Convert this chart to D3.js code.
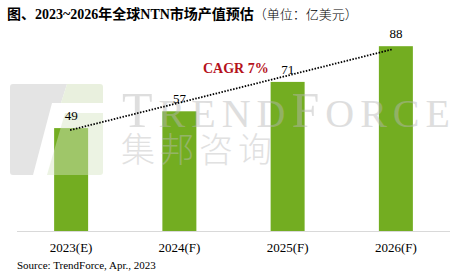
<!DOCTYPE html>
<html>
<head>
<meta charset="utf-8">
<script src="https://cdn.jsdelivr.net/npm/d3@7"></script>
<style>
body { margin: 0; background: #fff; }
svg { display: block; }
</style>
</head>
<body>
<svg id="chart" width="457" height="277"></svg>
<script>
const categories = ['2023(E)', '2024(F)', '2025(F)', '2026(F)'];
const values = [49, 57, 71, 88];
const cagrLabel = 'CAGR 7%';
const titleBold = '图、2023~2026年全球NTN市场产值预估';
const titleUnit = '（单位：亿美元）';
const sourceText = 'Source: TrendForce, Apr., 2023';

const svg = d3.select('#chart');
const serif = '"Liberation Serif", "Times New Roman", "Noto Sans CJK SC", serif';

const x = d3.scaleBand()
    .domain(categories)
    .range([17, 450])
    .paddingInner(0.686)
    .paddingOuter(0.343);

const y = d3.scaleLinear()
    .domain([0, 100])
    .range([231, 21]);

// title
const title = svg.append('text')
    .attr('x', 7)
    .attr('y', 19)
    .style('font-family', serif)
    .style('font-size', '14px')
    .style('fill', '#000');
title.append('tspan').style('font-weight', 'bold').text(titleBold);
title.append('tspan').style('font-family', '"Noto Sans CJK SC", sans-serif').style('font-size', '13px').style('font-weight', '300').text(titleUnit);

// bars
svg.selectAll('.bar')
    .data(values)
    .join('rect')
    .attr('class', 'bar')
    .attr('x', (d, i) => x(categories[i]))
    .attr('y', d => y(d))
    .attr('width', x.bandwidth())
    .attr('height', d => y(0) - y(d))
    .attr('fill', '#73ad21');

// watermark (drawn on top, faint)
const wm = svg.append('g').style('opacity', 0.45);
wm.append('path')
    .attr('d', 'M13,84 L67,84 L61,103 L52,103 L33,175 L13,175 Q10,175 10,172 L10,87 Q10,84 13,84 Z')
    .attr('fill', '#c4c4c4');
wm.append('path')
    .attr('d', 'M67,84 L100,84 Q103,84 103,87 L103,103 L61,103 Z')
    .attr('fill', '#cfe0b8');
wm.append('path')
    .attr('d', 'M65,113 L103,113 L103,172 Q103,175 100,175 L47,175 Z')
    .attr('fill', '#d6e6c2');
const tf = wm.append('text')
    .attr('x', 122)
    .attr('y', 127)
    .style('font-family', serif)
    .style('fill', '#b8b8b8')
    .style('letter-spacing', '6px');
tf.append('tspan').style('font-size', '50px').text('T');
tf.append('tspan').style('font-size', '40px').text('REND');
tf.append('tspan').style('font-size', '50px').text('F');
tf.append('tspan').style('font-size', '40px').text('ORCE');
wm.append('text')
    .attr('x', 121)
    .attr('y', 162)
    .style('font-family', '"Noto Sans CJK SC", sans-serif')
    .style('font-size', '34px')
    .style('font-weight', '300')
    .style('letter-spacing', '5px')
    .style('fill', '#bdbdbd')
    .text('集邦咨询');

// dotted trend line
const first = 0, last = values.length - 1;
svg.append('line')
    .attr('x1', x(categories[first]) + x.bandwidth() / 2 - 1)
    .attr('y1', y(values[first]) + 2)
    .attr('x2', x(categories[last]) + x.bandwidth() / 2 - 3)
    .attr('y2', y(values[last]) + 3)
    .attr('stroke', '#000')
    .attr('stroke-width', 1.8)
    .attr('stroke-dasharray', '1.5,1.5');

// value labels
svg.selectAll('.val')
    .data(values)
    .join('text')
    .attr('class', 'val')
    .attr('x', (d, i) => x(categories[i]) + x.bandwidth() / 2)
    .attr('y', d => y(d) - 8)
    .attr('text-anchor', 'middle')
    .style('font-family', serif)
    .style('font-size', '13px')
    .style('fill', '#000')
    .text(d => d);

// CAGR label
svg.append('text')
    .attr('x', 203)
    .attr('y', 73)
    .style('font-family', serif)
    .style('font-size', '14px')
    .style('font-weight', 'bold')
    .style('fill', '#b5121b')
    .text(cagrLabel);

// x axis
const axis = svg.append('g')
    .attr('transform', `translate(0,${y(0)})`)
    .call(d3.axisBottom(x).tickSize(0).tickPadding(12));
axis.select('.domain').attr('stroke', '#d9d9d9').attr('d', 'M17,0.5H450');
axis.selectAll('text')
    .style('font-family', serif)
    .style('font-size', '13px')
    .style('fill', '#000');

// source
svg.append('text')
    .attr('x', 17)
    .attr('y', 269)
    .style('font-family', serif)
    .style('font-size', '11px')
    .style('fill', '#000')
    .text(sourceText);
</script>
</body>
</html>
